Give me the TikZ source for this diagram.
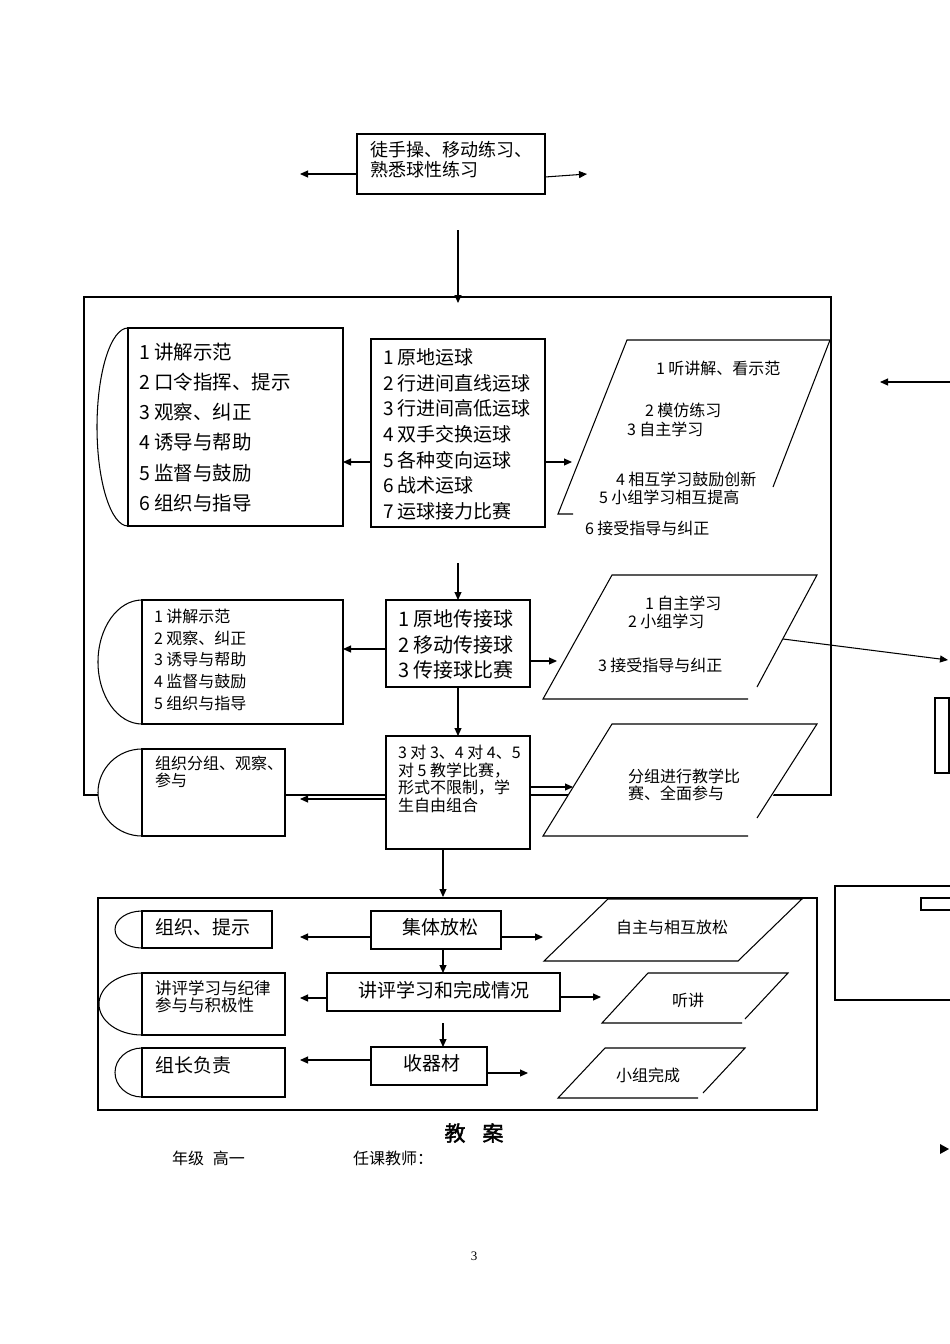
\documentclass[tikz,border=0pt]{standalone}
\usepackage{fontspec}
\setmainfont{Noto Sans CJK SC}
\newfontfamily\seriffont{Liberation Serif}
\newfontfamily\titlefont[FakeBold=2]{Noto Sans CJK SC}
\usetikzlibrary{arrows.meta,calc}
\newcommand\fsz[2]{\fontsize{#1}{#2}\selectfont}
\begin{document}
\begin{tikzpicture}[x=1pt,y=-1pt,line width=1.05pt,
  bx/.style={draw, fill=white, inner sep=0pt, outer sep=0pt, anchor=north west},
  arr/.style={-{Triangle[length=8pt,width=7pt]}},
  tx/.style={inner sep=0pt, outer sep=0pt, anchor=west},
  ml/.style={inner sep=0pt, outer sep=0pt, anchor=north west, align=left},
  ctr/.style={inner sep=0pt, outer sep=0pt, anchor=center}]
\useasboundingbox[fill=white] (0,0) rectangle (950,1344);

% ---------- frames ----------
\node[draw, inner sep=0pt, outer sep=0pt, anchor=north west, minimum width=747pt, minimum height=498pt] (frameA) at (84,297) {};
\node[draw, inner sep=0pt, outer sep=0pt, anchor=north west, minimum width=719pt, minimum height=212pt] (frameB) at (98,898) {};

% ---------- top ----------
\node[bx, minimum width=188pt, minimum height=60pt] (T) at (357,134) {};
\node[ml, font=\fsz{18}{20}] (Tt) at (370,141) {徒手操、移动练习、\\熟悉球性练习};
\coordinate (tl) at (300,174);
\coordinate (tr) at (587,174);
\draw[arr] (T.west |- tl) -- (tl);
\draw[arr] ($(T.east)+(0,13)$) -- (tr);
\coordinate (topin) at (458,230);
\coordinate (topout) at (458,303);
\draw[arr] (topin) -- (topout);

% ---------- section 1 ----------
\draw[fill=white] (128,328) arc[start angle=90, end angle=270, x radius=31pt, y radius=99pt] -- cycle;
\node[bx, minimum width=215pt, minimum height=198pt] (A) at (128,328) {};
\node[ml, font=\fsz{19.5}{30.2}] (At) at (139,342.8) {1 讲解示范\\2 口令指挥、提示\\3 观察、纠正\\4 诱导与帮助\\5 监督与鼓励\\6 组织与指导};

\node[bx, minimum width=174pt, minimum height=188pt] (B) at (371,339) {};
\node[ml, font=\fsz{19}{25.67}] (Bt) at (383,348.5) {1 原地运球\\2 行进间直线运球\\3 行进间高低运球\\4 双手交换运球\\5 各种变向运球\\6 战术运球\\7 运球接力比赛};

\draw (773,487) -- (830,340) -- (627,340) -- (558,514) -- (573,514);
\node[tx, font=\fsz{16}{16}] (p1a) at (656,368) {1 听讲解、看示范};
\node[tx, font=\fsz{16}{16}] (p1b) at (645,410) {2 模仿练习};
\node[tx, font=\fsz{16}{16}] (p1c) at (627,429) {3 自主学习};
\node[tx, font=\fsz{16}{16}] (p1d) at (616,479) {4 相互学习鼓励创新};
\node[tx, font=\fsz{16}{16}] (p1e) at (599,497) {5 小组学习相互提高};
\node[tx, font=\fsz{16}{16}] (p1f) at (585,528) {6 接受指导与纠正};

\coordinate (yAB) at (0,462);
\coordinate (p1in) at (572,462);
\draw[arr] (B.west |- yAB) -- (A.east |- yAB);
\draw[arr] (B.east |- yAB) -- (p1in);

\coordinate (rin) at (950,382);
\coordinate (rout) at (880,382);
\draw[arr] (rin) -- (rout);

% ---------- section 2 ----------
\coordinate (cin) at (458,563);
\node[bx, minimum width=144pt, minimum height=87pt] (C) at (386,600) {};
\draw[arr] (cin) -- (cin |- C.north);
\node[ml, font=\fsz{20}{25.5}] (Ct) at (398,610) {1 原地传接球\\2 移动传接球\\3 传接球比赛};

\draw[fill=white] (142,600) arc[start angle=90, end angle=270, x radius=44pt, y radius=62pt] -- cycle;
\node[bx, minimum width=201pt, minimum height=124pt] (D) at (142,600) {};
\node[ml, font=\fsz{16}{21.75}] (Dt) at (154,609) {1 讲解示范\\2 观察、纠正\\3 诱导与帮助\\4 监督与鼓励\\5 组织与指导};

\coordinate (yCD) at (0,649);
\draw[arr] (C.west |- yCD) -- (D.east |- yCD);
\coordinate (p2in) at (557,661);
\draw[arr] (C.east |- p2in) -- (p2in);

\draw (757,687) -- (817,575) -- (612,575) -- (543,699) -- (748,699);
\node[tx, font=\fsz{16}{16}] (p2a) at (645,603) {1 自主学习};
\node[tx, font=\fsz{16}{16}] (p2b) at (628,621) {2 小组学习};
\node[tx, font=\fsz{16}{16}] (p2c) at (598,665) {3 接受指导与纠正};
\coordinate (p2out) at (783,639);
\coordinate (p2end) at (948,660);
\draw[arr] (p2out) -- (p2end);

\node[draw, inner sep=0pt, outer sep=0pt, anchor=north west, minimum width=14pt, minimum height=75pt] (R1) at (935,698) {};

% ---------- section 3 ----------
\node[bx, minimum width=144pt, minimum height=113pt] (E) at (386,736) {};
\draw[arr] (C.south -| cin) -- (E.north -| cin);
\node[ml, font=\fsz{16}{17.7}] (Et) at (398,745) {3 对 3、4 对 4、5\\对 5 教学比赛，\\形式不限制，学\\生自由组合};

\draw[fill=white] (142,749) arc[start angle=90, end angle=270, x radius=44pt, y radius=43.5pt] -- cycle;
\node[bx, minimum width=143pt, minimum height=87pt] (F) at (142,749) {};
\node[ml, font=\fsz{16}{17}] (Ft) at (155,756) {组织分组、观察、\\参与};

\fill[white] (612,724) -- (817,724) -- (748,836) -- (543,836) -- cycle;
\draw (757,818) -- (817,724) -- (612,724) -- (543,836) -- (748,836);
\node[ml, font=\fsz{16}{16.5}] (P3t) at (628,769) {分组进行教学比\\赛、全面参与};

\coordinate (fin) at (300,799);
\coordinate (p3in) at (573,787);
\draw[arr] (E.west |- fin) -- (fin);
\draw[arr] (E.east |- p3in) -- (p3in);

\coordinate (xEG) at (443,0);
\coordinate (gin) at (443,897);
\draw[arr] (E.south -| xEG) -- (gin);

% ---------- bottom section ----------
\node[bx, minimum width=130pt, minimum height=38pt] (G1) at (371,911) {};
\node[ctr, font=\fsz{19}{19}] (G1t) at (440,927) {集体放松};
\node[bx, minimum width=233pt, minimum height=38pt] (G2) at (327,973) {};
\node[ctr, font=\fsz{19}{19}] (G2t) at (444,990) {讲评学习和完成情况};
\node[bx, minimum width=116pt, minimum height=38pt] (G3) at (371,1047) {};
\node[tx, font=\fsz{19}{19}] (G3t) at (403,1063) {收器材};

\draw[fill=white] (142,911) arc[start angle=90, end angle=270, x radius=27pt, y radius=18.5pt] -- cycle;
\node[bx, minimum width=130pt, minimum height=37pt] (H1) at (142,911) {};
\node[tx, font=\fsz{19}{19}] (H1t) at (155,927) {组织、提示};
\draw[fill=white] (142,973) arc[start angle=90, end angle=270, x radius=43pt, y radius=31pt] -- cycle;
\node[bx, minimum width=143pt, minimum height=62pt] (H2) at (142,973) {};
\node[ml, font=\fsz{16.5}{17}] (H2t) at (155,980.8) {讲评学习与纪律\\参与与积极性};
\draw[fill=white] (142,1048) arc[start angle=90, end angle=270, x radius=27pt, y radius=24.5pt] -- cycle;
\node[bx, minimum width=143pt, minimum height=49pt] (H3) at (142,1048) {};
\node[tx, font=\fsz{19}{19}] (H3t) at (155,1065) {组长负责};

\draw (608,899) -- (802,899) -- (738,961) -- (544,961) -- cycle;
\node[ctr, font=\fsz{16}{16}] (Q1t) at (672,927) {自主与相互放松};
\draw (745,1019) -- (788,973) -- (648,973) -- (602,1023) -- (742,1023);
\node[ctr, font=\fsz{16}{16}] (Q2t) at (688,1000) {听讲};
\draw (703,1093) -- (745,1048) -- (605,1048) -- (558,1098) -- (698,1098);
\node[ctr, font=\fsz{16}{16}] (Q3t) at (648,1075) {小组完成};

\coordinate (g1l) at (300,937);
\coordinate (g1r) at (543,937);
\draw[arr] (G1.west |- g1l) -- (g1l);
\draw[arr] (G1.east |- g1r) -- (g1r);
\draw[arr] (G1.south -| xEG) -- (G2.north -| xEG);
\coordinate (g2l) at (300,998);
\coordinate (g2r) at (601,997);
\draw[arr] (G2.west |- g2l) -- (g2l);
\draw[arr] (G2.east |- g2r) -- (g2r);
\coordinate (g3top) at (443,1023);
\draw[arr] (g3top) -- (G3.north -| g3top);
\coordinate (g3l) at (300,1060);
\coordinate (g3r) at (528,1073);
\draw[arr] (G3.west |- g3l) -- (g3l);
\draw[arr] (G3.east |- g3r) -- (g3r);

% ---------- right edge fragments ----------
\draw (950,886) -- (835,886) -- (835,1000) -- (950,1000);
\draw (950,898) -- (921,898) -- (921,910) -- (950,910);
\fill (940,1144) -- (949,1149) -- (940,1154) -- cycle;

% ---------- footer ----------
\node[ctr, font=\titlefont\fsz{21}{21}] (title) at (474,1133) {教\hspace{17pt}案};
\node[tx, font=\fsz{16}{16}] (grade) at (172,1158) {年级\hspace{9pt}高一};
\node[tx, font=\fsz{16}{16}] (teacher) at (353,1158) {任课教师：};
\node[ctr, font=\seriffont\fsz{13}{13}] (page) at (474,1256) {3};
\end{tikzpicture}
\end{document}
